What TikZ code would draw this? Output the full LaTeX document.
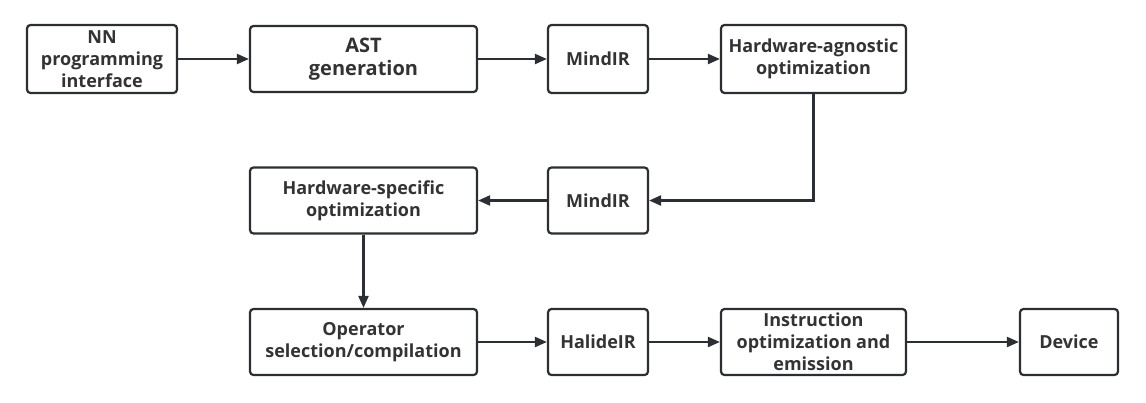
\documentclass[tikz,border=0pt]{standalone}
\usepackage{fontspec}
\setmainfont{Open Sans}[BoldFont={* Bold}]
\usetikzlibrary{arrows.meta}
\definecolor{ink}{HTML}{2B2F33}
\definecolor{txt}{HTML}{333333}
\tikzset{
  box/.style={draw=ink, line width=2.2pt, rounded corners=3.5pt, fill=white,
    align=center, inner sep=0pt, font=\bfseries\fontsize{18}{22}\selectfont, text=txt},
  bigbox/.style={box, font=\bfseries\fontsize{20}{23}\selectfont},
  conn/.style={draw=ink, line width=2.2pt, -{Triangle[length=12pt,width=10pt]}},
}
\begin{document}
\begin{tikzpicture}[x=1pt,y=-1pt]
\useasboundingbox (0,0) rectangle (1146,402);
\node[box, minimum width=150pt, minimum height=68pt] (nn) at (102,59) {NN\\programming\\interface};
\node[bigbox, minimum width=227pt, minimum height=66pt] (ast) at (363.5,59) {AST\\generation};
\node[box, minimum width=100pt, minimum height=68pt] (mir1) at (598,59) {MindIR};
\node[box, minimum width=185pt, minimum height=68pt] (hwa) at (813.5,59) {Hardware-agnostic\\optimization};
\node[box, minimum width=227pt, minimum height=66pt] (hws) at (363.5,200.5) {Hardware-specific\\optimization};
\node[box, minimum width=100pt, minimum height=66pt] (mir2) at (598,200.5) {MindIR};
\node[box, minimum width=227pt, minimum height=66pt] (op) at (363.5,342) {Operator\\selection/compilation};
\node[box, minimum width=100pt, minimum height=66pt] (hal) at (598,342) {HalideIR};
\node[box, minimum width=185pt, minimum height=66pt] (ins) at (813.5,342) {Instruction\\optimization and\\emission};
\node[box, minimum width=98pt, minimum height=66pt] (dev) at (1069,342) {Device};
\draw[conn] (nn) -- (ast);
\draw[conn] (ast) -- (mir1);
\draw[conn] (mir1) -- (hwa);
\draw[conn] (hwa.south) |- (mir2.east);
\draw[conn] (mir2) -- (hws);
\draw[conn] (hws) -- (op);
\draw[conn] (op) -- (hal);
\draw[conn] (hal) -- (ins);
\draw[conn] (ins) -- (dev);
\end{tikzpicture}
\end{document}
